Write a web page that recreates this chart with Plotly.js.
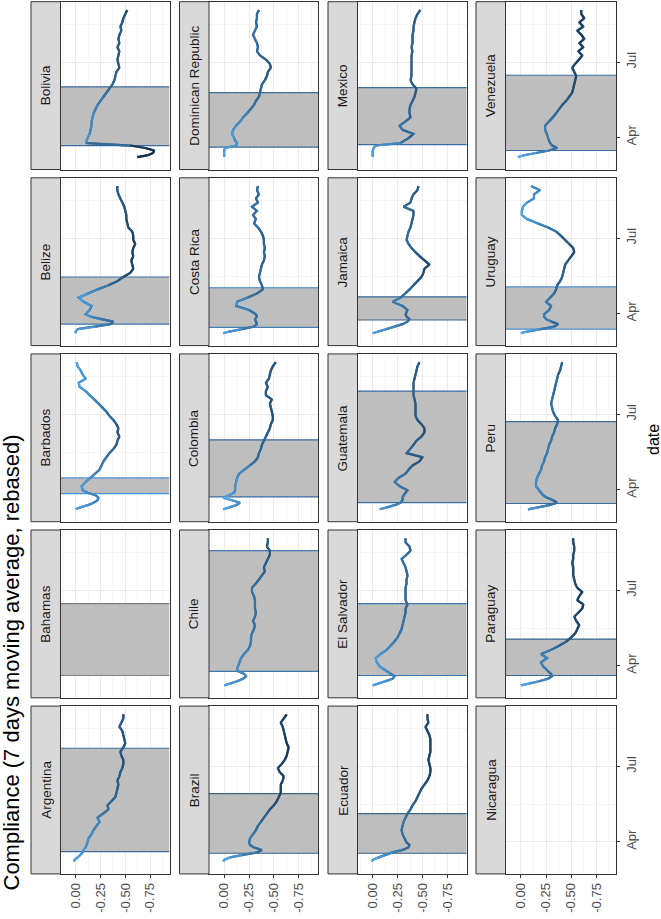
<!DOCTYPE html>
<html><head><meta charset="utf-8">
<script src="https://cdn.plot.ly/plotly-3.0.1.min.js"></script>
<style>html,body{margin:0;padding:0;background:#fff;}#chart{width:661px;height:919px;}</style>
</head><body><div id="chart"></div>
<script>
// ---------- data ----------
const dates = ['2020-03-08','2020-03-10','2020-03-13','2020-03-16','2020-03-19','2020-03-22','2020-03-25','2020-03-28','2020-03-31',
 '2020-04-05','2020-04-10','2020-04-15','2020-04-20','2020-04-25','2020-04-30',
 '2020-05-05','2020-05-10','2020-05-15','2020-05-20','2020-05-25','2020-05-30',
 '2020-06-04','2020-06-09','2020-06-14','2020-06-19','2020-06-24','2020-06-29',
 '2020-07-04','2020-07-09','2020-07-14','2020-07-19','2020-07-24','2020-07-29',
 '2020-08-03','2020-08-08','2020-08-13','2020-08-18','2020-08-23','2020-08-28','2020-09-02'];

const countries = ['Argentina','Bahamas','Barbados','Belize','Bolivia','Brazil','Chile','Colombia','Costa Rica','Dominican Republic',
 'Ecuador','El Salvador','Guatemala','Jamaica','Mexico','Nicaragua','Paraguay','Peru','Uruguay','Venezuela'];

const argentina = [0.02,0.01,-0.02,-0.05,-0.07,-0.08,-0.10,-0.11,-0.12, -0.13,-0.16,-0.18,-0.21,-0.24,-0.22, -0.28,-0.33,-0.32,-0.36,-0.40,-0.41, -0.42,-0.43,-0.42,-0.44,-0.45,-0.47, -0.48,-0.48,-0.46,-0.45,-0.48,-0.50, -0.49,-0.48,-0.47,-0.44,-0.46,-0.48,-0.48];
const bahamas = [];
const barbados = [0.00,-0.04,-0.12,-0.18,-0.22,-0.23,-0.20,-0.12,-0.07, -0.06,-0.10,-0.15,-0.20,-0.24,-0.26, -0.28,-0.31,-0.34,-0.38,-0.41,-0.42, -0.44,-0.42,-0.43,-0.41,-0.38,-0.34, -0.31,-0.27,-0.23,-0.19,-0.14,-0.10, -0.04,-0.03,-0.10,-0.07,-0.05,-0.02,-0.01];
const belize = [0.00,0.00,-0.02,-0.20,-0.35,-0.38,-0.25,-0.15,-0.10, -0.14,-0.16,-0.08,-0.03,-0.12,-0.22, -0.33,-0.42,-0.48,-0.55,-0.58,-0.57, -0.56,-0.58,-0.57,-0.58,-0.60,-0.58, -0.58,-0.57,-0.53,-0.52,-0.51,-0.51, -0.50,-0.49,-0.47,-0.45,-0.43,-0.42,-0.42];
const bolivia = [-0.62,-0.72,-0.78,-0.79,-0.70,-0.55,-0.11,-0.11,-0.12, -0.14,-0.15,-0.16,-0.16,-0.17,-0.18, -0.20,-0.22,-0.25,-0.28,-0.31,-0.34, -0.37,-0.39,-0.40,-0.41,-0.44,-0.43, -0.42,-0.43,-0.44,-0.42,-0.44,-0.43, -0.44,-0.46,-0.45,-0.47,-0.48,-0.50,-0.52];
const brazil = [0.01,0.00,-0.06,-0.18,-0.33,-0.38,-0.30,-0.26,-0.25, -0.26,-0.29,-0.32,-0.34,-0.37,-0.40, -0.43,-0.46,-0.50,-0.53,-0.55,-0.57, -0.57,-0.57,-0.59,-0.60,-0.56,-0.54, -0.58,-0.61,-0.63,-0.64,-0.65,-0.63, -0.62,-0.61,-0.60,-0.59,-0.57,-0.60,-0.63];
const chile = [0.00,-0.06,-0.13,-0.19,-0.22,-0.20,-0.14,-0.13,-0.14, -0.15,-0.17,-0.20,-0.24,-0.26,-0.27, -0.27,-0.28,-0.30,-0.31,-0.29,-0.31, -0.32,-0.31,-0.31,-0.31,-0.30,-0.28, -0.28,-0.32,-0.35,-0.38,-0.41,-0.40, -0.42,-0.44,-0.46,-0.46,-0.43,-0.44,-0.44];
const colombia = [0.01,-0.05,-0.12,-0.16,-0.08,0.01,-0.05,-0.10,-0.11, -0.11,-0.12,-0.13,-0.15,-0.20,-0.26, -0.31,-0.34,-0.35,-0.37,-0.38,-0.40, -0.42,-0.44,-0.46,-0.47,-0.49,-0.49, -0.48,-0.47,-0.46,-0.48,-0.42,-0.42, -0.44,-0.42,-0.45,-0.46,-0.47,-0.49,-0.52];
const costaRica = [0.01,-0.05,-0.18,-0.30,-0.33,-0.32,-0.31,-0.33,-0.32, -0.25,-0.12,-0.13,-0.24,-0.33,-0.39, -0.38,-0.36,-0.35,-0.36,-0.37,-0.38, -0.40,-0.41,-0.40,-0.41,-0.40,-0.40, -0.39,-0.37,-0.34,-0.30,-0.32,-0.29, -0.33,-0.28,-0.34,-0.32,-0.35,-0.33,-0.34];
const dominicanRepublic = [0.00,0.00,0.00,0.00,-0.01,-0.12,-0.13,-0.11,-0.10, -0.08,-0.09,-0.12,-0.16,-0.19,-0.23, -0.27,-0.30,-0.32,-0.35,-0.36,-0.37, -0.38,-0.41,-0.43,-0.44,-0.47,-0.46, -0.42,-0.36,-0.33,-0.34,-0.33,-0.31, -0.29,-0.31,-0.33,-0.32,-0.33,-0.33,-0.35];
const ecuador = [0.01,0.00,-0.06,-0.13,-0.20,-0.30,-0.36,-0.37,-0.34, -0.32,-0.30,-0.29,-0.30,-0.31,-0.33, -0.35,-0.38,-0.40,-0.43,-0.45,-0.47, -0.49,-0.52,-0.55,-0.57,-0.58,-0.58, -0.57,-0.56,-0.57,-0.58,-0.58,-0.58, -0.58,-0.57,-0.55,-0.53,-0.56,-0.55,-0.55];
const elSalvador = [0.00,-0.05,-0.13,-0.20,-0.22,-0.18,-0.14,-0.10,-0.07, -0.04,-0.03,-0.08,-0.14,-0.18,-0.22, -0.25,-0.27,-0.29,-0.30,-0.31,-0.32, -0.33,-0.33,-0.35,-0.33,-0.33,-0.33, -0.33,-0.34,-0.34,-0.35,-0.34,-0.33, -0.31,-0.29,-0.34,-0.38,-0.37,-0.33,-0.33];
const guatemala = [-0.07,-0.14,-0.22,-0.28,-0.30,-0.30,-0.31,-0.33,-0.35, -0.27,-0.22,-0.26,-0.33,-0.36,-0.40, -0.47,-0.50,-0.34,-0.38,-0.41,-0.44, -0.49,-0.52,-0.52,-0.49,-0.45,-0.43, -0.43,-0.43,-0.43,-0.42,-0.41,-0.41, -0.41,-0.41,-0.42,-0.43,-0.44,-0.45,-0.47];
const jamaica = [0.00,-0.05,-0.14,-0.22,-0.30,-0.35,-0.37,-0.34,-0.33, -0.35,-0.30,-0.20,-0.28,-0.33,-0.37, -0.41,-0.45,-0.49,-0.51,-0.52,-0.57, -0.52,-0.47,-0.43,-0.39,-0.36,-0.34, -0.35,-0.36,-0.38,-0.39,-0.40,-0.41, -0.41,-0.31,-0.38,-0.39,-0.41,-0.45,-0.46];
const mexico = [0.00,0.00,0.00,0.00,-0.01,-0.03,-0.28,-0.32,-0.36, -0.41,-0.30,-0.27,-0.33,-0.38,-0.37, -0.37,-0.38,-0.40,-0.42,-0.43,-0.44, -0.40,-0.38,-0.39,-0.39,-0.39,-0.39, -0.39,-0.39,-0.40,-0.39,-0.40,-0.40, -0.40,-0.41,-0.41,-0.42,-0.43,-0.45,-0.48];
const nicaragua = [];
const paraguay = [0.00,-0.08,-0.18,-0.27,-0.31,-0.30,-0.27,-0.25,-0.22, -0.20,-0.26,-0.20,-0.30,-0.38,-0.45, -0.50,-0.54,-0.56,-0.58,-0.55,-0.53, -0.57,-0.61,-0.62,-0.56,-0.58,-0.61, -0.56,-0.54,-0.53,-0.52,-0.52,-0.52, -0.51,-0.52,-0.52,-0.53,-0.53,-0.52,-0.52];
const peru = [-0.07,-0.16,-0.28,-0.36,-0.32,-0.26,-0.22,-0.20,-0.18, -0.15,-0.15,-0.16,-0.18,-0.20,-0.21, -0.23,-0.24,-0.26,-0.27,-0.28,-0.30, -0.31,-0.33,-0.34,-0.36,-0.37,-0.34, -0.32,-0.31,-0.30,-0.31,-0.32,-0.33, -0.34,-0.35,-0.36,-0.37,-0.39,-0.40,-0.41];
const uruguay = [0.00,-0.06,-0.20,-0.33,-0.37,-0.30,-0.25,-0.23,-0.23, -0.28,-0.30,-0.25,-0.29,-0.33,-0.35, -0.36,-0.39,-0.41,-0.42,-0.43,-0.44, -0.47,-0.50,-0.53,-0.52,-0.48,-0.44, -0.40,-0.35,-0.27,-0.16,-0.06,-0.01, -0.01,-0.02,-0.06,-0.13,-0.13,-0.19,-0.10];
const venezuela = [0.03,-0.02,-0.15,-0.28,-0.36,-0.31,-0.29,-0.28,-0.27, -0.26,-0.24,-0.24,-0.28,-0.32,-0.35, -0.38,-0.41,-0.45,-0.48,-0.51,-0.52, -0.53,-0.54,-0.55,-0.53,-0.51,-0.54, -0.58,-0.61,-0.57,-0.62,-0.58,-0.63, -0.60,-0.56,-0.62,-0.58,-0.63,-0.60,-0.60];

// lockdown periods (shaded bands)
const rectStart = ['2020-03-20','2020-03-20','2020-03-27','2020-03-19','2020-03-22','2020-03-18','2020-03-25','2020-03-23','2020-03-15','2020-03-20',
 '2020-03-18','2020-03-20','2020-03-16','2020-03-24','2020-03-23',null,'2020-03-20','2020-03-15','2020-03-13','2020-03-16'];
const rectEnd = ['2020-07-23','2020-06-15','2020-04-15','2020-05-15','2020-06-01','2020-05-29','2020-08-18','2020-05-31','2020-05-02','2020-05-25',
 '2020-05-05','2020-06-15','2020-07-29','2020-04-21','2020-05-31',null,'2020-05-03','2020-06-22','2020-05-03','2020-06-15'];

const valueTicks = [0, -0.25, -0.5, -0.75];
const valueTickText = ['0.00', '-0.25', '-0.50', '-0.75'];
const dateTicks = ['2020-04-01', '2020-07-01'];
const dateTickText = ['Apr', 'Jul'];

// ---------- styling ----------
const series = [argentina,bahamas,barbados,belize,bolivia,brazil,chile,colombia,costaRica,dominicanRepublic,
 ecuador,elSalvador,guatemala,jamaica,mexico,nicaragua,paraguay,peru,uruguay,venezuela];
const rectEdge = ['#3A6D9E','#7F7F7F','#4A92D6','#3E74A8','#3A6D9E','#37658F','#3F78AE','#3A6D9E','#4280BC','#3A6D9E',
 '#37658F','#3F78AE','#3A6D9E','#37658F','#3A6D9E',null,'#37658F','#3A6D9E','#4A92D6','#3A6D9E'];

const W = 661, H = 919;
const colL = [31, 179.5, 328, 476];
const colR = [169.5, 318, 466.7, 616];
const stripW = 29.5;
const rowT = [1.7, 177.8, 353.9, 530.0, 706.1];
const rowH = 167.8;
const valueRange = [0.153, -0.945];
const dateRange = ['2020-02-22', '2020-09-12'];
const FONT = 'Liberation Sans, Arial, Helvetica, sans-serif';

const cLo = [19, 43, 67], cHi = [86, 177, 247];
const vLo = -0.7, vHi = 0.05;
function colorFor(v) {
  let t = (v - vLo) / (vHi - vLo);
  t = Math.max(0, Math.min(1, t));
  const c = cLo.map((a, k) => Math.round(a + (cHi[k] - a) * t));
  return 'rgb(' + c.join(',') + ')';
}
const NBIN = 16;
const LW = 2.2;

const traces = [];
const layout = {
  width: W, height: H, margin: {l: 0, r: 0, t: 0, b: 0},
  paper_bgcolor: '#ffffff', plot_bgcolor: '#ffffff', showlegend: false,
  font: {family: FONT, color: '#4D4D4D', size: 13},
  shapes: [], annotations: []
};

countries.forEach((name, i) => {
  const row = 4 - (i % 5), col = Math.floor(i / 5);
  const n = i + 1;
  const xa = n === 1 ? 'x' : 'x' + n, ya = n === 1 ? 'y' : 'y' + n;
  const xk = n === 1 ? 'xaxis' : 'xaxis' + n, yk = n === 1 ? 'yaxis' : 'yaxis' + n;
  const px0 = colL[col] + stripW, px1 = colR[col];
  const pyT = rowT[row], pyB = rowT[row] + rowH;
  const bottomRow = row === 4, rightCol = col === 3;

  layout[xk] = {
    domain: [px0 / W, px1 / W], anchor: ya, range: valueRange, fixedrange: true,
    tickmode: 'array', tickvals: valueTicks, ticktext: valueTickText,
    showticklabels: bottomRow, ticks: bottomRow ? 'outside' : '', ticklen: 3, tickcolor: '#333333', tickwidth: 1,
    tickangle: -90, tickfont: {family: FONT, size: 13, color: '#4D4D4D'},
    showgrid: true, gridcolor: '#EBEBEB', gridwidth: 1, zeroline: false,
    minor: {tickmode: 'array', tickvals: [0.125, -0.125, -0.375, -0.625, -0.875], showgrid: true, gridcolor: '#EFEFEF', gridwidth: 0.6, ticks: ''},
    showline: true, mirror: true, linecolor: '#333333', linewidth: 1
  };
  layout[yk] = {
    domain: [1 - pyB / H, 1 - pyT / H], anchor: xa, type: 'date', side: 'right',
    range: dateRange, fixedrange: true,
    tickmode: 'array', tickvals: dateTicks, ticktext: dateTickText,
    showticklabels: rightCol, ticks: rightCol ? 'outside' : '', ticklen: 3, tickcolor: '#333333', tickwidth: 1,
    tickangle: -90, tickfont: {family: FONT, size: 13, color: '#4D4D4D'},
    showgrid: true, gridcolor: '#EBEBEB', gridwidth: 1, zeroline: false,
    minor: {tickmode: 'array', tickvals: ['2020-05-16', '2020-08-16'], showgrid: true, gridcolor: '#EFEFEF', gridwidth: 0.6, ticks: ''},
    showline: true, mirror: true, linecolor: '#333333', linewidth: 1
  };

  // strip
  layout.shapes.push({type: 'rect', xref: 'paper', yref: 'paper', x0: colL[col] / W, x1: px0 / W,
    y0: 1 - pyB / H, y1: 1 - pyT / H, fillcolor: '#D9D9D9', line: {color: '#333333', width: 1}, layer: 'above'});
  layout.annotations.push({xref: 'paper', yref: 'paper', x: (colL[col] + stripW / 2) / W, y: 1 - (pyT + rowH / 2) / H,
    text: name, showarrow: false, textangle: -90, xanchor: 'center', yanchor: 'middle',
    font: {family: FONT, size: 13.5, color: '#1A1A1A'}});

  // shaded band (full panel width, between two dates) drawn as traces so it sits above grid, below lines
  if (rectStart[i]) {
    const xl = valueRange[0], xr = valueRange[1];
    traces.push({type: 'scatter', mode: 'lines', xaxis: xa, yaxis: ya, hoverinfo: 'skip',
      x: [xl, xr, xr, xl, xl], y: [rectStart[i], rectStart[i], rectEnd[i], rectEnd[i], rectStart[i]],
      fill: 'toself', fillcolor: '#BEBEBE', line: {width: 0}});
    traces.push({type: 'scatter', mode: 'lines', xaxis: xa, yaxis: ya, hoverinfo: 'skip',
      x: [xl, xr, null, xl, xr], y: [rectStart[i], rectStart[i], null, rectEnd[i], rectEnd[i]],
      line: {color: rectEdge[i], width: 1.2}, connectgaps: false});
  }

  const vals = series[i];
  if (!vals.length) {
    if (!rectStart[i]) traces.push({type: 'scatter', mode: 'lines', x: [null], y: [null], xaxis: xa, yaxis: ya, hoverinfo: 'skip'});
    return;
  }
  // base line to hide seams between colour segments
  traces.push({type: 'scatter', mode: 'lines', x: vals, y: dates, xaxis: xa, yaxis: ya,
    line: {color: colorFor(-0.35), width: LW}, hoverinfo: 'skip'});
  const bins = Array.from({length: NBIN}, () => ({x: [], y: []}));
  for (let k = 0; k < vals.length - 1; k++) {
    const a = vals[k], b = vals[k + 1];
    if (a === null || b === null) continue;
    const m = (a + b) / 2;
    let t = (m - vLo) / (vHi - vLo); t = Math.max(0, Math.min(0.9999, t));
    const bi = Math.floor(t * NBIN);
    bins[bi].x.push(a, b, null); bins[bi].y.push(dates[k], dates[k + 1], null);
  }
  bins.forEach((bn, bi) => {
    if (!bn.x.length) return;
    const v = vLo + (bi + 0.5) / NBIN * (vHi - vLo);
    traces.push({type: 'scatter', mode: 'lines', x: bn.x, y: bn.y, xaxis: xa, yaxis: ya,
      line: {color: colorFor(v), width: LW}, connectgaps: false, hoverinfo: 'skip'});
  });
});

layout.annotations.push({xref: 'paper', yref: 'paper', x: 11 / W, y: 1 - 662.5 / H,
  text: 'Compliance (7 days moving average, rebased)', showarrow: false, textangle: -90,
  xanchor: 'center', yanchor: 'middle', font: {family: FONT, size: 22, color: '#000000'}});
layout.annotations.push({xref: 'paper', yref: 'paper', x: 653 / W, y: 1 - 440 / H,
  text: 'date', showarrow: false, textangle: -90, xanchor: 'center', yanchor: 'middle',
  font: {family: FONT, size: 16, color: '#000000'}});

Plotly.newPlot('chart', traces, layout, {staticPlot: true, displayModeBar: false});
</script>
</body></html>
